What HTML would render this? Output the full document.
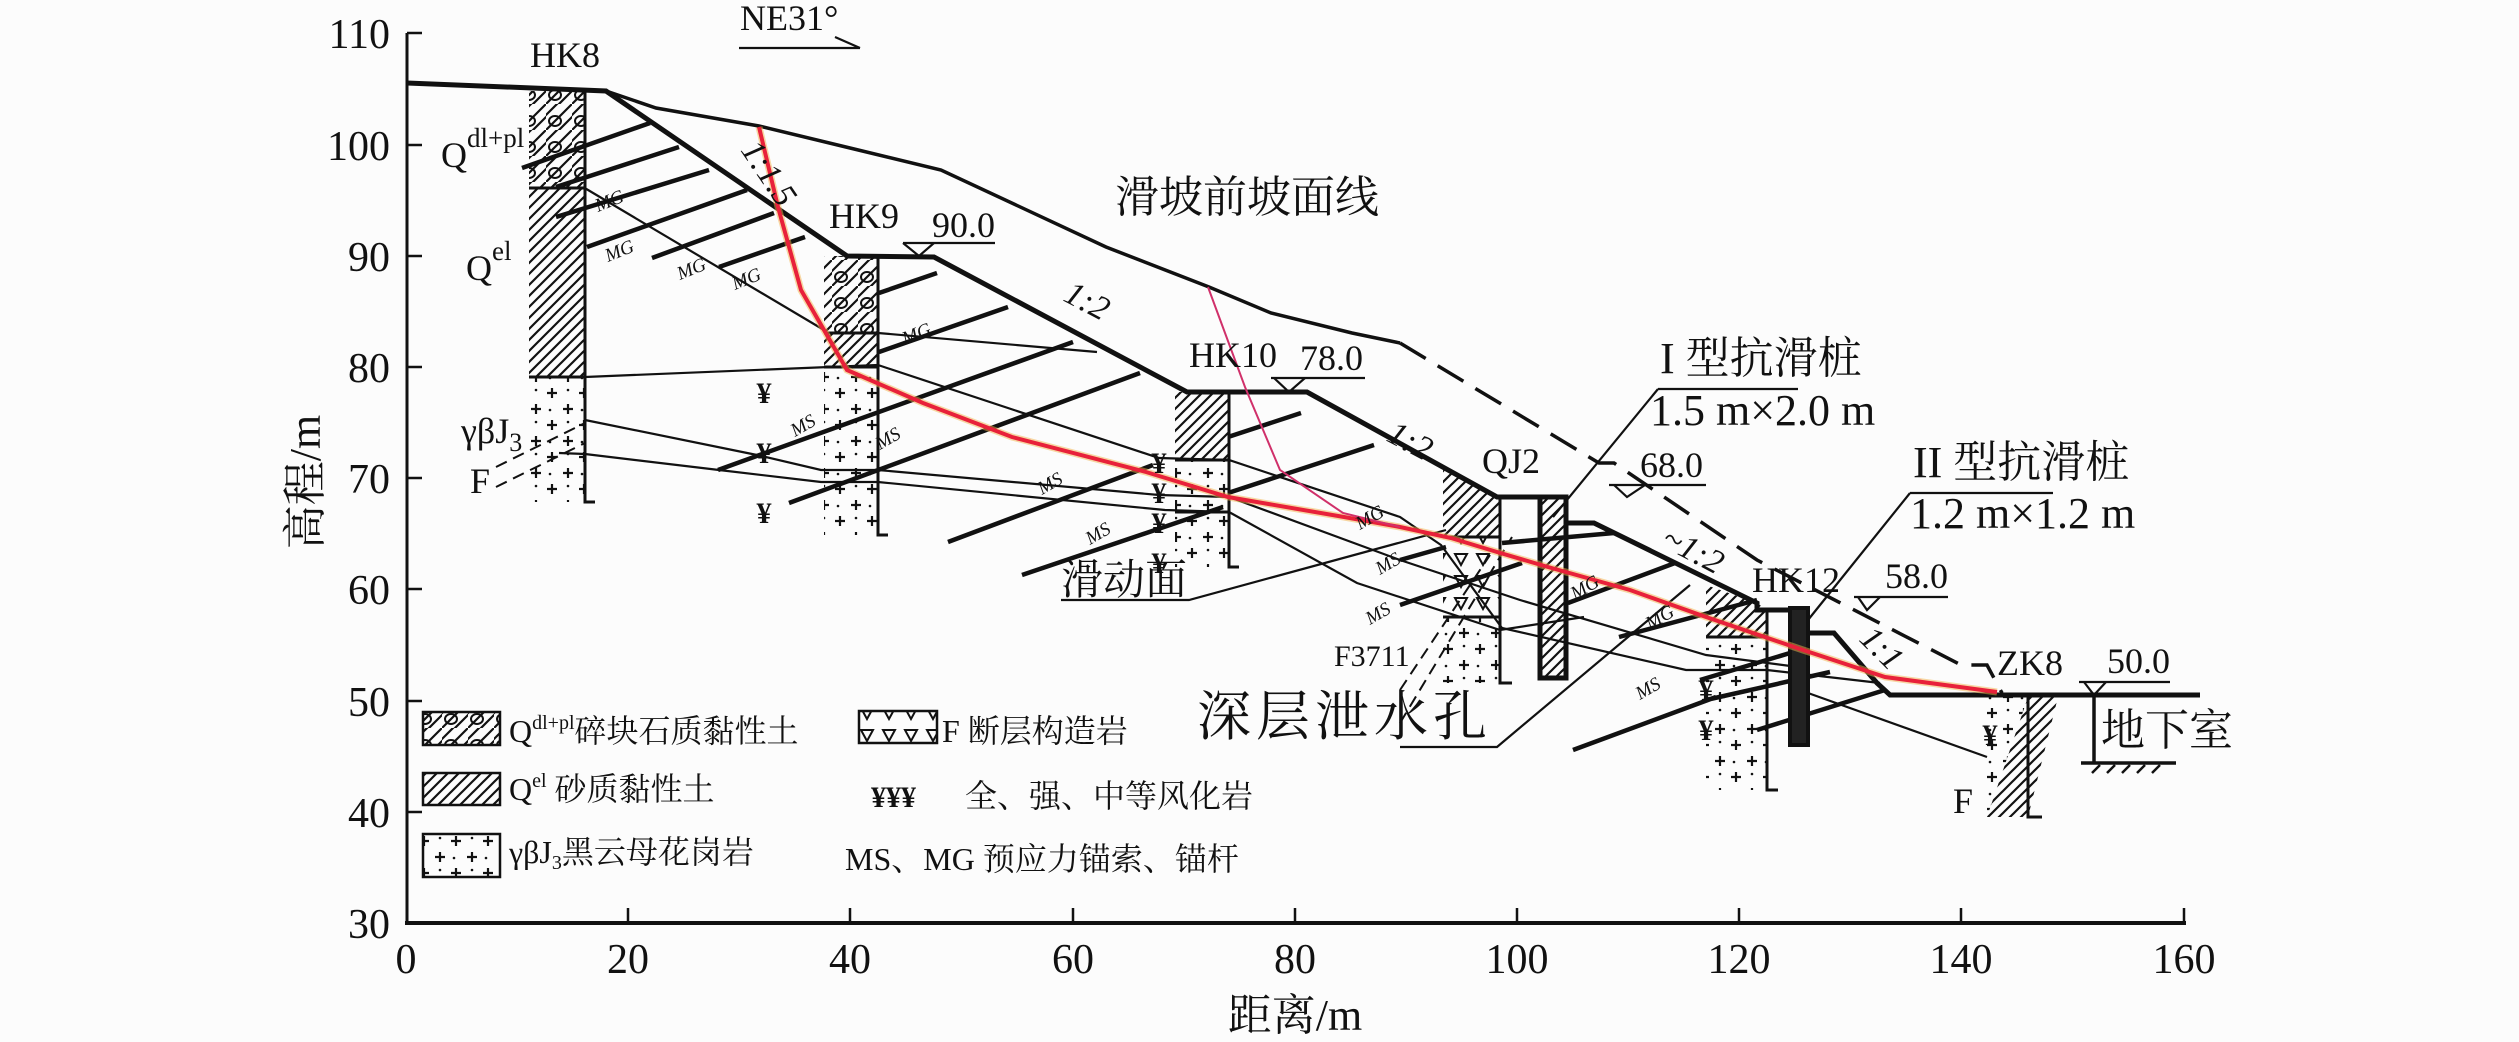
<!DOCTYPE html>
<html><head><meta charset="utf-8"><style>
html,body{margin:0;padding:0;background:#fcfcfc;}
svg{display:block;}
text{font-family:"Liberation Serif","Noto Serif CJK SC",serif;fill:#111;}
</style></head><body>
<svg width="2519" height="1042" viewBox="0 0 2519 1042" xmlns="http://www.w3.org/2000/svg">
<defs>
<pattern id="h" width="11" height="11" patternUnits="userSpaceOnUse"><path d="M-2,13 L13,-2 M-2,2 L2,-2 M9,13 L13,9" stroke="#111" stroke-width="2.2"/></pattern>
<pattern id="q" width="26" height="26" patternUnits="userSpaceOnUse"><path d="M-2,13 L13,-2 M-2,28 L28,-2 M11,28 L28,11" stroke="#111" stroke-width="2.2"/><ellipse cx="9" cy="17" rx="6" ry="5" fill="none" stroke="#111" stroke-width="2"/></pattern>
<pattern id="g" width="32" height="32" patternUnits="userSpaceOnUse"><path d="M8,4v10M3,9h10M24,20v10M19,25h10" stroke="#111" stroke-width="2.2"/><circle cx="24" cy="6" r="1.3" fill="#111"/><circle cx="6" cy="26" r="1.3" fill="#111"/></pattern>
<pattern id="f" width="22" height="22" patternUnits="userSpaceOnUse"><path d="M3,4 L15,4 L9,15 Z" fill="none" stroke="#111" stroke-width="2"/></pattern>
</defs>

<g stroke="#111" fill="none">
<line x1="407" y1="33" x2="407" y2="923" stroke-width="3"/>
<line x1="405" y1="923" x2="2186" y2="923" stroke-width="4"/>
<g stroke-width="2.5">
<line x1="407" y1="33" x2="422" y2="33"/><line x1="407" y1="145" x2="422" y2="145"/><line x1="407" y1="256" x2="422" y2="256"/><line x1="407" y1="367" x2="422" y2="367"/><line x1="407" y1="478" x2="422" y2="478"/><line x1="407" y1="589" x2="422" y2="589"/><line x1="407" y1="701" x2="422" y2="701"/><line x1="407" y1="812" x2="422" y2="812"/>
<line x1="628" y1="923" x2="628" y2="908"/><line x1="850" y1="923" x2="850" y2="908"/><line x1="1073" y1="923" x2="1073" y2="908"/><line x1="1295" y1="923" x2="1295" y2="908"/><line x1="1517" y1="923" x2="1517" y2="908"/><line x1="1739" y1="923" x2="1739" y2="908"/><line x1="1961" y1="923" x2="1961" y2="908"/><line x1="2184" y1="923" x2="2184" y2="908"/>
</g></g>
<g font-size="42" text-anchor="end">
<text x="390" y="48">110</text><text x="390" y="160">100</text><text x="390" y="271">90</text><text x="390" y="382">80</text><text x="390" y="493">70</text><text x="390" y="604">60</text><text x="390" y="716">50</text><text x="390" y="827">40</text><text x="390" y="938">30</text>
</g>
<g font-size="42" text-anchor="middle">
<text x="406" y="973">0</text><text x="628" y="973">20</text><text x="850" y="973">40</text><text x="1073" y="973">60</text><text x="1295" y="973">80</text><text x="1517" y="973">100</text><text x="1739" y="973">120</text><text x="1961" y="973">140</text><text x="2184" y="973">160</text>
<text x="1295" y="1030" font-size="44">距离/m</text>
<text transform="translate(320,482) rotate(-90)" font-size="44">高程/m</text>
</g>

<g stroke="none">
<rect x="529" y="91" width="56" height="97" fill="url(#q)"/>
<rect x="529" y="188" width="56" height="189" fill="url(#h)"/>
<rect x="529" y="377" width="56" height="125" fill="url(#g)"/>
<rect x="824" y="256" width="54" height="77" fill="url(#q)"/>
<rect x="824" y="333" width="54" height="34" fill="url(#h)"/>
<rect x="824" y="367" width="54" height="168" fill="url(#g)"/>
<rect x="1175" y="392" width="54" height="68" fill="url(#h)"/>
<rect x="1175" y="460" width="54" height="107" fill="url(#g)"/>
<polygon points="1443,470 1497,497 1500,497 1500,537 1443,537" fill="url(#h)"/>
<rect x="1443" y="537" width="57" height="80" fill="url(#f)"/>
<rect x="1443" y="617" width="57" height="66" fill="url(#g)"/>
<polygon points="1706,585 1757,603 1767,610 1767,637 1706,637" fill="url(#h)"/>
<rect x="1706" y="637" width="61" height="153" fill="url(#g)"/>
<rect x="1982" y="697" width="46" height="120" fill="url(#g)"/>
<polygon points="2028,697 2058,697 2028,817 1987,817" fill="#fcfcfc"/>
<polygon points="2028,697 2058,697 2028,817 1987,817" fill="url(#h)"/>
</g>
<g stroke="#111" stroke-width="3" fill="none">
<path d="M585,91V502h10"/><path d="M529,188h56M529,377h56"/>
<path d="M878,256V535h10"/><path d="M824,333h54M824,367h54"/>
<path d="M1229,392V567h10"/><path d="M1175,460h54M1175,512h54"/>
<path d="M1500,497V683h12"/><path d="M1443,537h57M1443,617h57"/>
<path d="M1767,610V790h11"/><path d="M1706,637h61"/>
<path d="M2028,697V817h14"/>
</g>

<g stroke="#111" stroke-width="2.2" fill="none">
<path d="M583,187L824,330"/>
<path d="M585,377L878,365"/>
<path d="M878,333L1097,352"/>
<path d="M878,365L1159,458L1229,460L1400,517L1441,545L1502,628L1686,670L1767,670L1880,683"/>
<path d="M585,420L757,455L821,470L878,470L1159,495L1229,497L1400,560L1520,600L1706,655L1798,667"/>
<path d="M559,453L585,454L719,470L821,482L878,482L1165,510L1229,512L1357,583L1500,630L1584,617"/>
<path d="M1808,693L1987,757"/>
<path d="M1400,747H1497L1690,585"/>
<path d="M1061,600H1189L1446,530"/>
<path d="M1658,389H1798M1658,389L1553,517"/>
<path d="M1910,493H2053M1910,493L1808,620"/>
<path d="M903,243H995M1271,378H1365M1609,485H1706M1854,597H1948M2079,682H2170"/>
<path d="M903,243L919,256L934,243M1274,378L1289,392L1305,378M1614,485L1627,497L1645,485M1858,597L1867,610L1880,597M2084,682L2094,695L2106,682"/>
<path d="M739,48H860M835,37L860,48"/>
</g>
<g stroke="#111" stroke-width="2" fill="none" stroke-dasharray="12,7">
<path d="M496,467L585,423M496,487L585,443"/>
<path d="M1400,723L1512,537M1400,690L1490,555"/>
</g>

<g stroke="#111" stroke-width="4.5" fill="none">
<path d="M522,168L650,123M556,187L679,147M556,217L709,170M587,247L747,190M652,258L774,213M719,267L805,237"/>
<path d="M879,293L937,273M879,352L1008,307M718,470L1073,342M789,503L1140,373M948,542L1153,465M1022,575L1223,507M1228,437L1301,413M1228,493L1374,445"/>
<path d="M1400,560L1446,547M1400,605L1522,563M1502,543L1614,533M1568,603L1675,563M1619,637L1757,600M1573,750L1716,697M1757,730L1885,690M1706,700L1830,672M1700,680L1800,650"/>
</g>

<path d="M606,91L656,108L759,126L850,148L941,170L1106,247L1209,287L1271,313L1352,333L1400,343" stroke="#111" stroke-width="3.5" fill="none"/>
<path d="M1400,343L1599,463L1614,463L1757,560L1961,665L1987,665L2002,693" stroke="#111" stroke-width="3.5" fill="none" stroke-dasharray="30,14"/>

<path d="M407,83L606,91L847,256L934,257L1187,392L1307,392L1497,497L1563,497" stroke="#111" stroke-width="5" fill="none"/>
<path d="M1566,523L1594,523L1757,603L1757,610L1808,610M1808,633L1834,633L1877,683L1890,695L2200,695" stroke="#111" stroke-width="5" fill="none"/>
<path d="M2094,695V763M2081,763H2176" stroke="#111" stroke-width="3.5" fill="none"/>
<path d="M2100,765l-8,8M2115,765l-8,8M2130,765l-8,8M2145,765l-8,8M2160,765l-8,8" stroke="#111" stroke-width="2.5"/>

<rect x="1540" y="497" width="26" height="181" fill="url(#h)" stroke="#111" stroke-width="5"/>
<rect x="1790" y="608" width="18" height="137" fill="#222" stroke="#111" stroke-width="4"/>

<path d="M759,127L778,207L801,290L824,330L847,370L923,403L1012,437L1146,472L1228,497L1344,517L1400,527L1451,538L1497,552L1548,567L1630,590L1706,617L1803,650L1885,677L1997,692" stroke="#f2b24a" stroke-width="7" fill="none" opacity="0.5"/>
<path d="M759,127L778,207L801,290L824,330L847,370L923,403L1012,437L1146,472L1228,497L1344,517L1400,527L1451,538L1497,552L1548,567L1630,590L1706,617L1803,650L1885,677L1997,692" stroke="#e8213a" stroke-width="4" fill="none"/>
<path d="M1208,287L1245,387L1280,470L1343,513L1400,527" stroke="#d0306a" stroke-width="2" fill="none"/>

<g font-size="30" font-weight="bold" text-anchor="middle">
<text x="764" y="403">¥</text><text x="764" y="463">¥</text><text x="764" y="523">¥</text>
<text x="1159" y="473">¥</text><text x="1159" y="503">¥</text><text x="1159" y="533">¥</text><text x="1159" y="573">¥</text>
<text x="1706" y="700">¥</text><text x="1706" y="740">¥</text><text x="1990" y="745">¥</text>
</g>

<g font-size="19" font-style="italic">
<text transform="translate(598,212) rotate(-22)">MG</text>
<text transform="translate(608,262) rotate(-22)">MG</text>
<text transform="translate(680,280) rotate(-22)">MG</text>
<text transform="translate(735,290) rotate(-22)">MG</text>
<text transform="translate(905,345) rotate(-22)">MG</text>
<text transform="translate(795,437) rotate(-30)">MS</text>
<text transform="translate(880,450) rotate(-30)">MS</text>
<text transform="translate(1042,495) rotate(-30)">MS</text>
<text transform="translate(1090,545) rotate(-30)">MS</text>
<text transform="translate(1360,530) rotate(-30)">MG</text>
<text transform="translate(1380,575) rotate(-30)">MS</text>
<text transform="translate(1370,625) rotate(-30)">MS</text>
<text transform="translate(1575,600) rotate(-30)">MG</text>
<text transform="translate(1650,630) rotate(-30)">MG</text>
<text transform="translate(1640,700) rotate(-30)">MS</text>
</g>

<g font-size="36">
<text x="530" y="67">HK8</text>
<text x="829" y="228">HK9</text>
<text x="932" y="237">90.0</text>
<text x="1189" y="367">HK10</text>
<text x="1300" y="370">78.0</text>
<text x="1482" y="473">QJ2</text>
<text x="1640" y="477">68.0</text>
<text x="1752" y="592">HK12</text>
<text x="1885" y="588">58.0</text>
<text x="1997" y="675">ZK8</text>
<text x="2107" y="673">50.0</text>
<text x="740" y="30" font-size="36">NE31°</text>
<text x="441" y="167">Q<tspan dy="-20" font-size="27">dl+pl</tspan></text>
<text x="466" y="280">Q<tspan dy="-20" font-size="27">el</tspan></text>
<text x="461" y="443">γβJ<tspan dy="8" font-size="26">3</tspan></text>
<text x="470" y="493">F</text>
<text x="1953" y="813">F</text>
<text x="1334" y="666" font-size="30">F3711</text>
</g>
<g font-size="34" font-style="italic">
<text transform="translate(740,150) rotate(56)">1:1.5</text>
<text transform="translate(1062,300) rotate(28)">1:2</text>
<text transform="translate(1385,440) rotate(28)">1:2</text>
<text transform="translate(1660,545) rotate(28)">~1:2</text>
<text transform="translate(1858,640) rotate(45)">1:1</text>
</g>
<g font-size="44">
<text x="1115" y="212">滑坡前坡面线</text>
<text x="1660" y="373">I 型抗滑桩</text>
<text x="1650" y="425">1.5 m×2.0 m</text>
<text x="1913" y="477">II 型抗滑桩</text>
<text x="1910" y="528">1.2 m×1.2 m</text>
<text x="1061" y="594" font-size="42">滑动面</text>
<text x="1197" y="735" font-size="54" letter-spacing="5">深层泄水孔</text>
<text x="2101" y="745">地下室</text>
</g>

<g stroke="#111" stroke-width="2.5">
<rect x="423" y="712" width="77" height="33" fill="url(#q)"/>
<rect x="423" y="773" width="77" height="32" fill="url(#h)"/>
<rect x="423" y="834" width="77" height="43" fill="url(#g)"/>
<rect x="859" y="711" width="78" height="32" fill="url(#f)"/>
</g>
<g font-size="32">
<text x="509" y="742">Q<tspan dy="-13" font-size="20">dl+pl</tspan><tspan dy="13">碎块石质黏性土</tspan></text>
<text x="509" y="800">Q<tspan dy="-13" font-size="20">el</tspan><tspan dy="13"> 砂质黏性土</tspan></text>
<text x="509" y="863">γβJ<tspan dy="6" font-size="20">3</tspan><tspan dy="-6">黑云母花岗岩</tspan></text>
<text x="942" y="742">F 断层构造岩</text>
<text x="871" y="807" font-weight="bold" font-size="30">¥¥¥</text>
<text x="965" y="807">全、强、中等风化岩</text>
<text x="845" y="870">MS、MG 预应力锚索、锚杆</text>
</g>
</svg>
</body></html>
